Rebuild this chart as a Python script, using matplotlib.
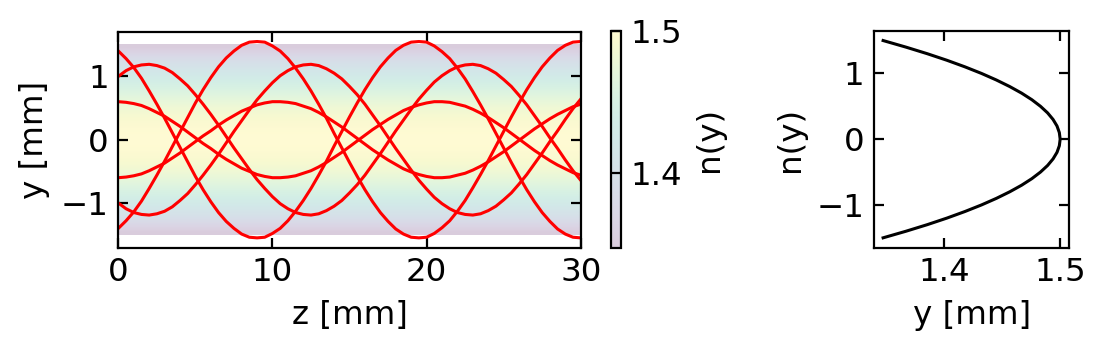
import numpy as np
import matplotlib.pyplot as plt

# propagation distance z [mm], sampled every 0.5 mm
z = np.linspace(0, 30, 61)

# ray heights y(z) [mm]
ray_a = [1.40, 1.28, 1.14, 0.97, 0.77, 0.56, 0.34, 0.11, -0.12, -0.35,
         -0.58, -0.79, -0.98, -1.15, -1.29, -1.40, -1.49, -1.54, -1.55, -1.54,
         -1.48, -1.40, -1.28, -1.13, -0.96, -0.77, -0.56, -0.34, -0.10, 0.13,
         0.36, 0.58, 0.79, 0.98, 1.15, 1.29, 1.41, 1.49, 1.54, 1.55,
         1.54, 1.48, 1.39, 1.28, 1.13, 0.96, 0.76, 0.55, 0.33, 0.10,
         -0.13, -0.36, -0.58, -0.79, -0.98, -1.15, -1.29, -1.41, -1.49, -1.54,
         -1.55]
ray_b = [1.00, 1.09, 1.15, 1.18, 1.19, 1.17, 1.13, 1.06, 0.96, 0.85,
         0.71, 0.56, 0.40, 0.23, 0.05, -0.13, -0.30, -0.47, -0.63, -0.77,
         -0.90, -1.01, -1.09, -1.15, -1.18, -1.19, -1.17, -1.12, -1.05, -0.96,
         -0.84, -0.71, -0.56, -0.39, -0.22, -0.04, 0.14, 0.31, 0.48, 0.64,
         0.78, 0.91, 1.01, 1.09, 1.15, 1.18, 1.19, 1.17, 1.12, 1.05,
         0.95, 0.84, 0.70, 0.55, 0.38, 0.21, 0.03, -0.14, -0.32, -0.49,
         -0.64]
ray_c = [0.60, 0.59, 0.57, 0.54, 0.49, 0.43, 0.37, 0.29, 0.21, 0.12,
         0.03, -0.06, -0.14, -0.23, -0.31, -0.38, -0.45, -0.50, -0.55, -0.58,
         -0.60, -0.60, -0.59, -0.57, -0.53, -0.49, -0.43, -0.36, -0.28, -0.20,
         -0.11, -0.02, 0.07, 0.16, 0.24, 0.32, 0.39, 0.46, 0.51, 0.55,
         0.58, 0.60, 0.60, 0.59, 0.56, 0.53, 0.48, 0.42, 0.35, 0.27,
         0.19, 0.10, 0.01, -0.08, -0.17, -0.25, -0.33, -0.40, -0.46, -0.52,
         -0.56]
ray_a2 = [-1.40, -1.28, -1.14, -0.97, -0.77, -0.56, -0.34, -0.11, 0.12, 0.35,
          0.58, 0.79, 0.98, 1.15, 1.29, 1.40, 1.49, 1.54, 1.55, 1.54,
          1.48, 1.40, 1.28, 1.13, 0.96, 0.77, 0.56, 0.34, 0.10, -0.13,
          -0.36, -0.58, -0.79, -0.98, -1.15, -1.29, -1.41, -1.49, -1.54, -1.55,
          -1.54, -1.48, -1.39, -1.28, -1.13, -0.96, -0.76, -0.55, -0.33, -0.10,
          0.13, 0.36, 0.58, 0.79, 0.98, 1.15, 1.29, 1.41, 1.49, 1.54,
          1.55]
ray_b2 = [-1.00, -1.09, -1.15, -1.18, -1.19, -1.17, -1.13, -1.06, -0.96, -0.85,
          -0.71, -0.56, -0.40, -0.23, -0.05, 0.13, 0.30, 0.47, 0.63, 0.77,
          0.90, 1.01, 1.09, 1.15, 1.18, 1.19, 1.17, 1.12, 1.05, 0.96,
          0.84, 0.71, 0.56, 0.39, 0.22, 0.04, -0.14, -0.31, -0.48, -0.64,
          -0.78, -0.91, -1.01, -1.09, -1.15, -1.18, -1.19, -1.17, -1.12, -1.05,
          -0.95, -0.84, -0.70, -0.55, -0.38, -0.21, -0.03, 0.14, 0.32, 0.49,
          0.64]
ray_c2 = [-0.60, -0.59, -0.57, -0.54, -0.49, -0.43, -0.37, -0.29, -0.21, -0.12,
          -0.03, 0.06, 0.14, 0.23, 0.31, 0.38, 0.45, 0.50, 0.55, 0.58,
          0.60, 0.60, 0.59, 0.57, 0.53, 0.49, 0.43, 0.36, 0.28, 0.20,
          0.11, 0.02, -0.07, -0.16, -0.24, -0.32, -0.39, -0.46, -0.51, -0.55,
          -0.58, -0.60, -0.60, -0.59, -0.56, -0.53, -0.48, -0.42, -0.35, -0.27,
          -0.19, -0.10, -0.01, 0.08, 0.17, 0.25, 0.33, 0.40, 0.46, 0.52,
          0.56]
rays = [ray_a, ray_b, ray_c, ray_a2, ray_b2, ray_c2]

# refractive index profile n(y)
y_prof = [-1.5, -1.4, -1.3, -1.2, -1.1, -1.0, -0.9, -0.8, -0.7, -0.6, -0.5,
          -0.4, -0.3, -0.2, -0.1, 0.0, 0.1, 0.2, 0.3, 0.4, 0.5,
          0.6, 0.7, 0.8, 0.9, 1.0, 1.1, 1.2, 1.3, 1.4, 1.5]
n_prof = [1.3479, 1.3675, 1.3858, 1.4027, 1.4182, 1.4324, 1.4452, 1.4567, 1.4669, 1.4757, 1.4831,
          1.4892, 1.4939, 1.4973, 1.4993, 1.5000, 1.4993, 1.4973, 1.4939, 1.4892, 1.4831,
          1.4757, 1.4669, 1.4567, 1.4452, 1.4324, 1.4182, 1.4027, 1.3858, 1.3675, 1.3479]

plt.rcParams['font.size'] = 11.7
fig = plt.figure(figsize=(5.52, 1.745), dpi=200)

ax1 = fig.add_axes([0.1072, 0.2903, 0.4188, 0.6189])
cax = fig.add_axes([0.5532, 0.2903, 0.0093, 0.6218])
ax2 = fig.add_axes([0.7919, 0.2903, 0.1764, 0.6218])

# background: index map
img = ax1.imshow(np.array(n_prof)[:, None], origin='lower', extent=[0, 30, -1.5, 1.5],
                 aspect='auto', cmap='viridis', alpha=0.2, interpolation='bilinear')
for r in rays:
    ax1.plot(z, r, color='red', lw=1.1)
ax1.set_xlim(0, 30)
ax1.set_ylim(-1.705, 1.705)
ax1.set_xticks([0, 10, 20, 30])
ax1.set_yticks([-1, 0, 1])
ax1.set_xlabel("z [mm]")
ax1.set_ylabel("y [mm]")
ax1.tick_params(direction='in', top=True, right=True)

cb = fig.colorbar(img, cax=cax)
cb.set_ticks([1.4, 1.5])
cb.set_label("n(y)")
cax.tick_params(direction='in')

# profile
ax2.plot(n_prof, y_prof, color='black', lw=1.1)
ax2.set_xticks([1.4, 1.5])
ax2.set_yticks([-1, 0, 1])
ax2.set_xlabel("y [mm]")
ax2.set_ylabel("n(y)")
ax2.tick_params(direction='in', top=True, right=True)

fig.savefig("out.png", dpi=200)
